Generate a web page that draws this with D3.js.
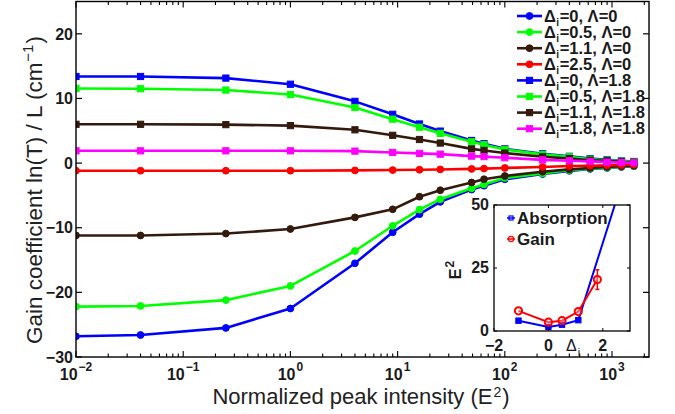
<!DOCTYPE html>
<html>
<head>
<meta charset="utf-8">
<script src="https://cdn.jsdelivr.net/npm/d3@7"></script>
<style>
html,body{margin:0;padding:0;background:#fff;}
svg{display:block;font-family:"Liberation Sans",Arial,Helvetica,sans-serif;}
</style>
</head>
<body>
<svg id="chart" width="675" height="414"></svg>
<script>
// ---------------- DATA ----------------
const intensity = [0.01, 0.04, 0.25, 1, 4, 9, 16, 25, 49, 64, 100, 225, 400, 625, 900, 1225, 1600];

const seriesLabels = ["0, \u039B=0", "0.5, \u039B=0", "1.1, \u039B=0", "2.5, \u039B=0",
                      "0, \u039B=1.8", "0.5, \u039B=1.8", "1.1, \u039B=1.8", "1.8, \u039B=1.8"];
const seriesColors = ["#0000ff", "#00ff00", "#331a0d", "#ff0000", "#0000ff", "#00ff00", "#331a0d", "#ff00ff"];
const seriesMarkers = ["circle", "circle", "circle", "circle", "square", "square", "square", "square"];

const d0_L0   = [-26.8, -26.6, -25.5, -22.5, -15.5, -10.7, -7.9, -6.0, -4.1, -3.5, -2.5, -1.7, -1.2, -0.9, -0.75, -0.6, -0.5];
const d05_L0  = [-22.2, -22.1, -21.2, -19.0, -13.6, -9.7, -7.2, -5.6, -3.9, -3.3, -2.3, -1.6, -1.1, -0.85, -0.7, -0.55, -0.45];
const d11_L0  = [-11.2, -11.2, -10.9, -10.2, -8.4, -7.15, -5.2, -4.2, -3.0, -2.5, -2.0, -1.34, -0.97, -0.75, -0.6, -0.5, -0.4];
const d25_L0  = [-1.18, -1.18, -1.18, -1.18, -1.13, -1.08, -1.03, -0.98, -0.9, -0.85, -0.75, -0.6, -0.45, -0.4, -0.35, -0.3, -0.25];
const d0_L18  = [13.4, 13.4, 13.15, 12.2, 9.55, 7.55, 6.05, 4.95, 3.5, 3.0, 2.2, 1.45, 1.05, 0.7, 0.5, 0.35, 0.25];
const d05_L18 = [11.55, 11.5, 11.3, 10.6, 8.6, 6.8, 5.55, 4.6, 3.3, 2.85, 2.1, 1.35, 0.98, 0.6, 0.44, 0.3, 0.2];
const d11_L18 = [6.0, 6.0, 5.95, 5.8, 5.15, 4.3, 3.65, 3.1, 2.2, 1.96, 1.55, 0.97, 0.7, 0.45, 0.35, 0.2, 0.15];
const d18_L18 = [1.9, 1.9, 1.9, 1.9, 1.85, 1.65, 1.5, 1.38, 1.08, 1.0, 0.83, 0.5, 0.36, 0.26, 0.15, 0.1, 0.05];
const seriesValues = [d0_L0, d05_L0, d11_L0, d25_L0, d0_L18, d05_L18, d11_L18, d18_L18];

const yTicks = [-30, -20, -10, 0, 10, 20];
const xTickExponents = [-2, -1, 0, 1, 2, 3];

// inset data
const absDelta = [-1.1, 0, 0.5, 1.1, 2.5];
const absE2    = [4.1, 1.6, 2.5, 4.3, 52];
const gainDelta = [-1.1, 0, 0.5, 1.1, 1.8];
const gainE2    = [8.0, 3.5, 4.1, 7.7, 20.4];
const gainErr   = [0, 0, 0, 0, 3.9];
const insetXTicks = [-2, 0, 2];
const insetYTicks = [0, 25, 50];

// ---------------- LAYOUT ----------------
const svg = d3.select("#chart");
const L = 76, R = 649, T = 1.5, B = 357;
const x = d3.scaleLog().domain([0.01, Math.pow(10, 3.345)]).range([L, R]);
const y = d3.scaleLinear().domain([-30, 25]).range([B, T]);
const MINUS = "\u2212";
const fmt = v => (v < 0 ? MINUS + Math.abs(v) : String(v));

svg.append("defs").append("clipPath").attr("id", "mainclip")
  .append("rect").attr("x", L).attr("y", T).attr("width", R - L).attr("height", B - T);

// ---------------- DATA MARKS ----------------
const plotG = svg.append("g").attr("clip-path", "url(#mainclip)");
const line = d3.line().x(d => x(d[0])).y(d => y(d[1]));

function drawMarker(g, type, cx, cy, color, size) {
  if (type === "circle") {
    g.append("circle").attr("cx", cx).attr("cy", cy).attr("r", size)
      .attr("fill", color).attr("stroke", color).attr("stroke-width", 1);
  } else {
    g.append("rect").attr("x", cx - size).attr("y", cy - size)
      .attr("width", 2 * size).attr("height", 2 * size)
      .attr("fill", color).attr("stroke", color).attr("stroke-width", 1);
  }
}

seriesValues.forEach((vals, i) => {
  const pts = intensity.map((xv, j) => [xv, vals[j]]);
  const g = plotG.append("g");
  g.append("path").attr("d", line(pts)).attr("fill", "none")
    .attr("stroke", seriesColors[i]).attr("stroke-width", 2.6).attr("stroke-linejoin", "round");
  pts.forEach(p => drawMarker(g, seriesMarkers[i], x(p[0]), y(p[1]), seriesColors[i],
    seriesMarkers[i] === "circle" ? 3.4 : 3.1));
});

// ---------------- AXES ----------------
const axG = svg.append("g");
axG.append("rect").attr("x", L).attr("y", T).attr("width", R - L).attr("height", B - T)
  .attr("fill", "none").attr("stroke", "#000").attr("stroke-width", 1.4);

yTicks.forEach(v => {
  const yy = y(v);
  axG.append("line").attr("x1", L).attr("x2", L + 6).attr("y1", yy).attr("y2", yy).attr("stroke", "#000").attr("stroke-width", 1.2);
  axG.append("line").attr("x1", R).attr("x2", R - 6).attr("y1", yy).attr("y2", yy).attr("stroke", "#000").attr("stroke-width", 1.2);
  axG.append("text").attr("x", L - 3).attr("y", yy).attr("dy", "0.36em")
    .attr("text-anchor", "end").attr("font-size", 16).attr("font-weight", "bold").attr("fill", "#1a1a1a")
    .text(fmt(v));
});

const [xd0, xd1] = x.domain();
for (let e = -2; e <= 3; e++) {
  for (let m = 1; m <= 9; m++) {
    const v = m * Math.pow(10, e);
    if (v < xd0 || v > xd1) continue;
    const len = m === 1 ? 6 : 3.5;
    const xx = x(v);
    axG.append("line").attr("x1", xx).attr("x2", xx).attr("y1", B).attr("y2", B - len).attr("stroke", "#000").attr("stroke-width", 1.1);
    axG.append("line").attr("x1", xx).attr("x2", xx).attr("y1", T).attr("y2", T + len).attr("stroke", "#000").attr("stroke-width", 1.1);
  }
}
xTickExponents.forEach(e => {
  const t = axG.append("text").attr("x", x(Math.pow(10, e))).attr("y", 380)
    .attr("text-anchor", "middle").attr("font-size", 16).attr("font-weight", "bold").attr("fill", "#1a1a1a");
  t.append("tspan").text("10");
  t.append("tspan").attr("dx", 1).attr("dy", -9).attr("font-size", 12).text(fmt(e));
});

const xl = svg.append("text").attr("x", 361).attr("y", 404).attr("text-anchor", "middle")
  .attr("font-size", 22).attr("fill", "#222");
xl.append("tspan").text("Normalized peak intensity (E");
xl.append("tspan").attr("dx", 1).attr("dy", -7.5).attr("font-size", 14).text("2");
xl.append("tspan").attr("dx", 1).attr("dy", 7.5).text(")");

const yl = svg.append("text").attr("transform", "translate(42,190) rotate(-90)").attr("text-anchor", "middle")
  .attr("font-size", 22.5).attr("fill", "#222");
yl.append("tspan").text("Gain coefficient ln(T) / L (cm");
yl.append("tspan").attr("dx", 1).attr("dy", -9).attr("font-size", 15).text(MINUS + "1");
yl.append("tspan").attr("dx", 1).attr("dy", 9).text(")");

// ---------------- INSET ----------------
const iL = 494, iR = 630, iT = 205, iB = 331;
const ix = d3.scaleLinear().domain([-2, 3]).range([iL, iR]);
const iy = d3.scaleLinear().domain([0, 50]).range([iB, iT]);
svg.select("defs").append("clipPath").attr("id", "insetclip")
  .append("rect").attr("x", iL).attr("y", iT).attr("width", iR - iL).attr("height", iB - iT);

const inset = svg.append("g");
inset.append("rect").attr("x", iL).attr("y", iT).attr("width", iR - iL).attr("height", iB - iT)
  .attr("fill", "#fff").attr("stroke", "none");
const iData = inset.append("g").attr("clip-path", "url(#insetclip)");
const iline = d3.line().x(d => ix(d[0])).y(d => iy(d[1]));

const absPts = absDelta.map((d, j) => [d, absE2[j]]);
iData.append("path").attr("d", iline(absPts)).attr("fill", "none").attr("stroke", "#0000ff").attr("stroke-width", 2);
absPts.forEach(p => iData.append("rect").attr("x", ix(p[0]) - 2.6).attr("y", iy(p[1]) - 2.6)
  .attr("width", 5.2).attr("height", 5.2).attr("fill", "#0000ff").attr("stroke", "#0000ff").attr("stroke-width", 1.2));

const gainPts = gainDelta.map((d, j) => [d, gainE2[j], gainErr[j]]);
iData.append("path").attr("d", iline(gainPts)).attr("fill", "none").attr("stroke", "#ff0000").attr("stroke-width", 2);
gainPts.forEach(p => {
  if (p[2] > 0) {
    const cx = ix(p[0]);
    iData.append("line").attr("x1", cx).attr("x2", cx).attr("y1", iy(p[1] - p[2])).attr("y2", iy(p[1] + p[2]))
      .attr("stroke", "#ff0000").attr("stroke-width", 1.5);
    [p[1] - p[2], p[1] + p[2]].forEach(v => iData.append("line").attr("x1", cx - 2).attr("x2", cx + 2)
      .attr("y1", iy(v)).attr("y2", iy(v)).attr("stroke", "#ff0000").attr("stroke-width", 1.5));
  }
  iData.append("circle").attr("cx", ix(p[0])).attr("cy", iy(p[1])).attr("r", 3.6)
    .attr("fill", "#fff").attr("fill-opacity", 0.3).attr("stroke", "#ff0000").attr("stroke-width", 2);
});

inset.append("rect").attr("x", iL).attr("y", iT).attr("width", iR - iL).attr("height", iB - iT)
  .attr("fill", "none").attr("stroke", "#000").attr("stroke-width", 1.3);
insetXTicks.forEach(v => {
  const xx = ix(v);
  inset.append("line").attr("x1", xx).attr("x2", xx).attr("y1", iB).attr("y2", iB - 3).attr("stroke", "#000");
  inset.append("line").attr("x1", xx).attr("x2", xx).attr("y1", iT).attr("y2", iT + 3).attr("stroke", "#000");
  inset.append("text").attr("x", xx).attr("y", 351).attr("text-anchor", "middle")
    .attr("font-size", 16).attr("font-weight", "bold").attr("fill", "#1a1a1a").text(fmt(v));
});
insetYTicks.forEach(v => {
  const yy = iy(v);
  inset.append("line").attr("x1", iL).attr("x2", iL + 3).attr("y1", yy).attr("y2", yy).attr("stroke", "#000");
  inset.append("line").attr("x1", iR).attr("x2", iR - 3).attr("y1", yy).attr("y2", yy).attr("stroke", "#000");
  inset.append("text").attr("x", iL - 5).attr("y", yy).attr("dy", "0.34em").attr("text-anchor", "end")
    .attr("font-size", 16).attr("font-weight", "bold").attr("fill", "#1a1a1a").text(fmt(v));
});
const ixl = inset.append("text").attr("x", 566).attr("y", 351).attr("font-size", 16).attr("fill", "#1a1a1a");
ixl.append("tspan").text("\u0394");
ixl.append("tspan").attr("dx", 1).attr("dy", 5).attr("font-size", 11).text("i");
const iyl = inset.append("text").attr("transform", "translate(461,270) rotate(-90)").attr("text-anchor", "middle")
  .attr("font-size", 16).attr("font-weight", "bold").attr("fill", "#1a1a1a");
iyl.append("tspan").text("E");
iyl.append("tspan").attr("dx", 1).attr("dy", -7).attr("font-size", 12).text("2");

const insetLegend = [
  {label: "Absorption", color: "#0000ff", marker: "square"},
  {label: "Gain", color: "#ff0000", marker: "circle"}
];
insetLegend.forEach((it, k) => {
  const yy = 218 + k * 21;
  inset.append("line").attr("x1", 507).attr("x2", 515).attr("y1", yy).attr("y2", yy).attr("stroke", it.color).attr("stroke-width", 1.5);
  if (it.marker === "square") {
    inset.append("rect").attr("x", 509).attr("y", yy - 2).attr("width", 4).attr("height", 4)
      .attr("fill", "none").attr("stroke", it.color).attr("stroke-width", 1.2);
  } else {
    inset.append("circle").attr("cx", 511).attr("cy", yy).attr("r", 2.6)
      .attr("fill", "none").attr("stroke", it.color).attr("stroke-width", 1.3);
  }
  inset.append("text").attr("x", 517).attr("y", yy + 5.5).attr("font-size", 17).attr("font-weight", "bold")
    .attr("fill", "#1a1a1a").text(it.label);
});

// ---------------- MAIN LEGEND ----------------
const leg = svg.append("g");
seriesLabels.forEach((lab, i) => {
  const yy = 16 + i * 16.1;
  leg.append("line").attr("x1", 517).attr("x2", 542).attr("y1", yy).attr("y2", yy)
    .attr("stroke", seriesColors[i]).attr("stroke-width", 2.6);
  drawMarker(leg, seriesMarkers[i], 529.5, yy, seriesColors[i], seriesMarkers[i] === "circle" ? 3.4 : 3.1);
  const t = leg.append("text").attr("x", 544).attr("y", yy + 5.5).attr("font-size", 16.5)
    .attr("font-weight", "bold").attr("fill", "#1a1a1a");
  t.append("tspan").text("\u0394");
  t.append("tspan").attr("dx", 0.5).attr("dy", 4).attr("font-size", 10).text("i");
  t.append("tspan").attr("dx", 0.5).attr("dy", -4).text("=" + lab);
});
</script>
</body>
</html>
